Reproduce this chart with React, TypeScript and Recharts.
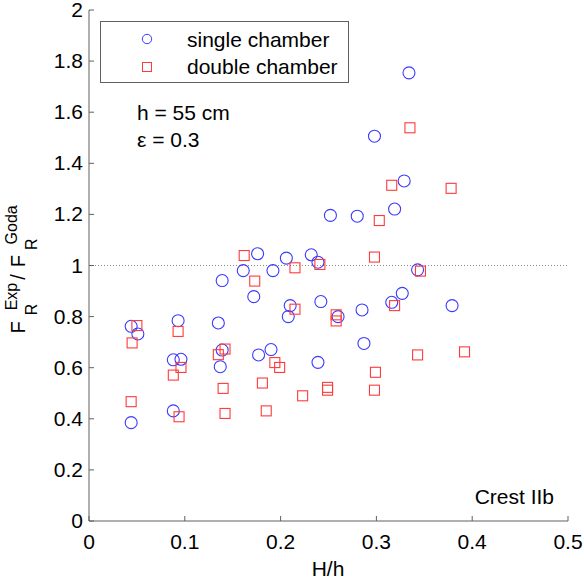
import React from "react";
import {
  ScatterChart,
  Scatter,
  XAxis,
  YAxis,
  ReferenceLine,
  Legend,
  Customized,
} from "recharts";

// ===== data =====
const singleHh = [
  0.044, 0.051, 0.044, 0.093, 0.088, 0.096, 0.088, 0.135, 0.139, 0.139,
  0.137, 0.161, 0.176, 0.172, 0.192, 0.177, 0.19, 0.206, 0.21, 0.208,
  0.232, 0.239, 0.343, 0.242, 0.26, 0.285, 0.316, 0.327, 0.379, 0.287,
  0.239, 0.334, 0.298, 0.329, 0.319, 0.252, 0.28,
];
const singleRatio = [
  0.762, 0.732, 0.385, 0.784, 0.631, 0.633, 0.431, 0.775, 0.941, 0.669,
  0.604, 0.98, 1.046, 0.878, 0.98, 0.65, 0.671, 1.029, 0.843, 0.8,
  1.042, 1.013, 0.983, 0.859, 0.8, 0.826, 0.856, 0.891, 0.843, 0.695,
  0.621, 1.754, 1.506, 1.331, 1.221, 1.196, 1.193,
];
const doubleHh = [
  0.05, 0.045, 0.044, 0.093, 0.088, 0.096, 0.094, 0.135, 0.142, 0.14,
  0.142, 0.162, 0.173, 0.181, 0.185, 0.194, 0.199, 0.215, 0.215, 0.223,
  0.241, 0.298, 0.346, 0.258, 0.258, 0.319, 0.343, 0.392, 0.299, 0.249,
  0.249, 0.298, 0.335, 0.316, 0.378, 0.303,
];
const doubleRatio = [
  0.765, 0.697, 0.467, 0.742, 0.571, 0.601, 0.408, 0.651, 0.673, 0.519,
  0.421, 1.039, 0.939, 0.54, 0.431, 0.62, 0.601, 0.991, 0.829, 0.49,
  1.004, 1.033, 0.978, 0.807, 0.783, 0.843, 0.65, 0.662, 0.582, 0.523,
  0.512, 0.512, 1.539, 1.314, 1.302, 1.176,
];
const xTicks = [0, 0.1, 0.2, 0.3, 0.4, 0.5];
const yTicks = [0, 0.2, 0.4, 0.6, 0.8, 1, 1.2, 1.4, 1.6, 1.8, 2];

const singleData = singleHh.map((x, i) => ({ x, y: singleRatio[i] }));
const doubleData = doubleHh.map((x, i) => ({ x, y: doubleRatio[i] }));

const BLUE = "#3a3aff";
const RED = "#ff3a3a";
const AXIS = "#606060";
const FONT = "'Liberation Sans', Arial, sans-serif";
const FS = 21;

// ===== markers =====
const CircleMark = (props: any) => (
  <circle cx={props.cx} cy={props.cy} r={6} fill="none" stroke={BLUE} strokeWidth={1.1} />
);
const SquareMark = (props: any) => (
  <rect x={props.cx - 5} y={props.cy - 5} width={10} height={10} fill="none" stroke={RED} strokeWidth={1.1} />
);

// ===== ticks drawn inward (matlab style) =====
const BottomTick = (props: any) => {
  const { x, y, payload } = props;
  const axisY = y - 14;
  return (
    <g>
      <line x1={x} x2={x} y1={axisY} y2={axisY - 5} stroke={AXIS} />
      <text x={x} y={axisY + 28} textAnchor="middle" fontSize={FS} fill="#000" fontFamily={FONT}>
        {payload.value}
      </text>
    </g>
  );
};
const TopTick = (props: any) => (
  <line x1={props.x} x2={props.x} y1={props.y} y2={props.y + 5} stroke={AXIS} />
);
const LeftTick = (props: any) => {
  const { x, y, payload } = props;
  const axisX = x + 6;
  return (
    <g>
      <line x1={axisX} x2={axisX + 5} y1={y} y2={y} stroke={AXIS} />
      <text x={x} y={y + 7} textAnchor="end" fontSize={FS} fill="#000" fontFamily={FONT}>
        {payload.value}
      </text>
    </g>
  );
};
const RightTick = (props: any) => (
  <line x1={props.x} x2={props.x - 5} y1={props.y} y2={props.y} stroke={AXIS} />
);

// ===== y label F_R^Exp / F_R^Goda =====
const YLabel = (props: any) => {
  const vb = props.viewBox || {};
  const cx = 25;
  const cy = vb.y + vb.height / 2 + 68;
  return (
    <text
      x={cx}
      y={cy}
      transform={`rotate(-90, ${cx}, ${cy})`}
      fontSize={20}
      fontFamily={FONT}
      fill="#000"
    >
      F
      <tspan fontSize={16} dx={6} dy={12}>R</tspan>
      <tspan fontSize={16} dx={-6.6} dy={-20}>Exp</tspan>
      <tspan dx={3} dy={8}>/</tspan>
      <tspan dx={7}>F</tspan>
      <tspan fontSize={16} dx={5} dy={12}>R</tspan>
      <tspan fontSize={16} dx={-6} dy={-20}>Goda</tspan>
    </text>
  );
};

// ===== legend =====
const LegendBox = () => (
  <div
    style={{
      width: 247,
      height: 60,
      border: `1px solid ${AXIS}`,
      background: "#fff",
      position: "relative",
    }}
  >
    <svg width={247} height={60} style={{ position: "absolute", left: 0, top: 0 }}>
      <circle cx={46} cy={17} r={4.7} fill="none" stroke={BLUE} />
      <rect x={41.5} y={40.5} width={9} height={9} fill="none" stroke={RED} />
      <text x={86} y={25} fontSize={FS} fontFamily={FONT}>single chamber</text>
      <text x={86} y={52} fontSize={FS} fontFamily={FONT}>double chamber</text>
    </svg>
  </div>
);

const Notes = () => (
  <g fontFamily={FONT} fontSize={FS} fill="#000">
    <text x={137} y={120}>h = 55 cm</text>
    <text x={137} y={147}>ε = 0.3</text>
    <text x={554} y={504} textAnchor="end">Crest IIb</text>
    <text x={328} y={576} textAnchor="middle">H/h</text>
  </g>
);

export default function App() {
  return (
    <div style={{ position: "absolute", left: 0, top: 0, background: "#fff" }}>
      <ScatterChart
        width={584}
        height={583}
        margin={{ top: 10, right: 16, bottom: 0, left: 0 }}
      >
        <XAxis
          type="number"
          dataKey="x"
          domain={[0, 0.5]}
          ticks={xTicks}
          height={62}
          stroke={AXIS}
          tickSize={0}
          tickMargin={14}
          tickLine={false}
          tick={<BottomTick />}
          allowDataOverflow
        />
        <XAxis
          xAxisId="top"
          orientation="top"
          type="number"
          domain={[0, 0.5]}
          ticks={xTicks}
          height={0}
          stroke={AXIS}
          tickSize={0}
          tickLine={false}
          tick={<TopTick />}
          allowDataOverflow
        />
        <YAxis
          type="number"
          dataKey="y"
          domain={[0, 2]}
          ticks={yTicks}
          width={89}
          stroke={AXIS}
          tickSize={0}
          tickMargin={6}
          tickLine={false}
          tick={<LeftTick />}
          label={<YLabel />}
          allowDataOverflow
        />
        <YAxis
          yAxisId="right"
          orientation="right"
          type="number"
          domain={[0, 2]}
          ticks={yTicks}
          width={0}
          stroke={AXIS}
          tickSize={0}
          tickLine={false}
          tick={<RightTick />}
          allowDataOverflow
        />
        <ReferenceLine y={1} stroke="#8a8a8a" strokeDasharray="1 2" strokeWidth={1} />
        <Scatter
          name="single chamber"
          data={singleData}
          shape={<CircleMark />}
          isAnimationActive={false}
        />
        <Scatter
          name="double chamber"
          data={doubleData}
          shape={<SquareMark />}
          isAnimationActive={false}
        />
        <Legend
          layout="vertical"
          align="center"
          verticalAlign="middle"
          content={<LegendBox />}
          wrapperStyle={{ left: 100, top: 21, width: 249, height: 62 }}
        />
        <Customized component={<Notes />} />
      </ScatterChart>
    </div>
  );
}
